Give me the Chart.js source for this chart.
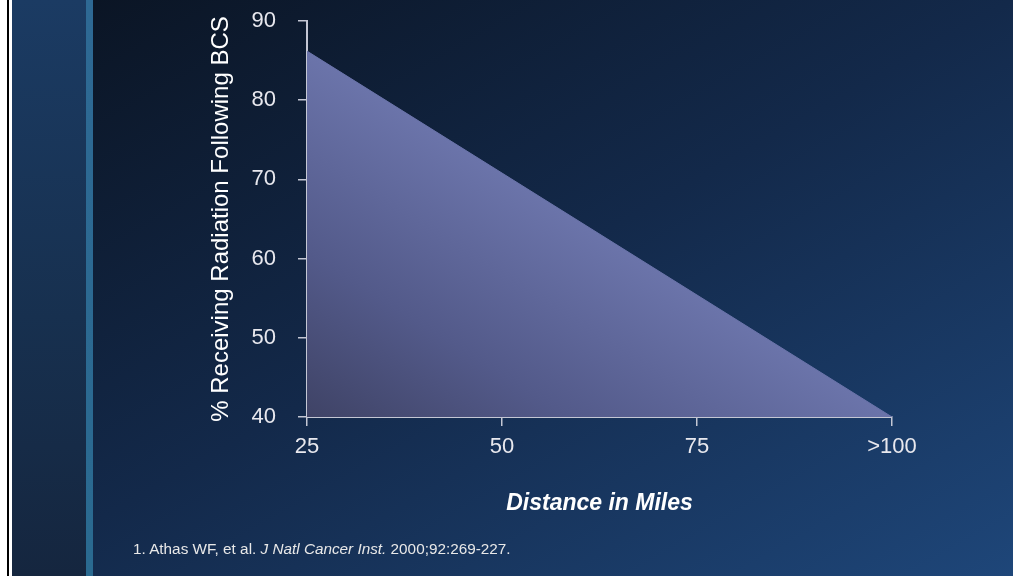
<!DOCTYPE html>
<html>
<head>
<meta charset="utf-8">
<script src="https://cdn.jsdelivr.net/npm/chart.js@4/dist/chart.umd.min.js"></script>
<style>
  html, body { margin: 0; padding: 0; }
  body { width: 1013px; height: 576px; position: relative; overflow: hidden;
         background: linear-gradient(to bottom right, #0a1321 0%, #13294a 50%, #1e4679 100%); }
  #edgeW1 { position: absolute; left: 0; top: 0; width: 7px; height: 576px; background: #ffffff; }
  #edgeB { position: absolute; left: 7px; top: 0; width: 2px; height: 576px; background: #000000; }
  #edgeW2 { position: absolute; left: 9px; top: 0; width: 3px; height: 576px; background: #ffffff; }
  #band { position: absolute; left: 12px; top: 0; width: 74px; height: 576px;
          background: linear-gradient(to bottom, #1b3b63 0%, #17304f 55%, #15263f 100%); }
  #stripe { position: absolute; left: 86px; top: 0; width: 7px; height: 576px;
            background: linear-gradient(to bottom, #2e6994, #2a6a90); }
  #c { position: absolute; left: 0; top: 0; }
  #note { position: absolute; left: 133px; top: 540px; color: #e8e8e8;
          font-family: 'Liberation Sans Narrow', 'Liberation Sans', Arial, sans-serif; font-size: 15.3px; white-space: nowrap; }
  #note i { font-style: italic; }
</style>
</head>
<body>
<div id="edgeW1"></div><div id="edgeB"></div><div id="edgeW2"></div>
<div id="band"></div><div id="stripe"></div>
<canvas id="c" width="1013" height="576"></canvas>
<div id="note">1. Athas WF, et al. <i>J Natl Cancer Inst.</i> 2000;92:269-227.</div>
<script>
const categories = ['25', '50', '75', '>100'];
const radiationPct = [86.2, 70.8, 55.4, 40];
const yTicks = [40, 50, 60, 70, 80, 90];
const yTitle = '% Receiving Radiation Following BCS';
const xTitle = 'Distance in Miles';

const axisColor = '#c4c7d4';
const tickFont = { family: "'Liberation Sans Narrow', 'Liberation Sans', Arial, sans-serif", size: 22 };

function fillGradient(ctx) {
  const chart = ctx.chart;
  const area = chart.chartArea;
  if (!area) return '#5a6194';
  const xs = chart.scales.x, ys = chart.scales.y;
  const ax = xs.getPixelForValue(0), ay = ys.getPixelForValue(radiationPct[0]);
  const bx = xs.getPixelForValue(categories.length - 1), by = ys.getPixelForValue(radiationPct[radiationPct.length - 1]);
  const cx = ax, cy = by;
  const vx = bx - ax, vy = by - ay;
  const t = ((cx - ax) * vx + (cy - ay) * vy) / (vx * vx + vy * vy);
  const fx = ax + t * vx, fy = ay + t * vy;
  const g = chart.ctx.createLinearGradient(cx, cy, fx, fy);
  g.addColorStop(0, '#3f4366');
  g.addColorStop(0.45, '#535a8a');
  g.addColorStop(1, '#6b74aa');
  return g;
}

new Chart(document.getElementById('c'), {
  type: 'line',
  data: {
    labels: categories,
    datasets: [{
      data: radiationPct,
      fill: 'start',
      backgroundColor: fillGradient,
      borderColor: '#6b74aa',
      borderWidth: 1,
      pointRadius: 0,
      tension: 0
    }]
  },
  options: {
    responsive: false,
    animation: false,
    devicePixelRatio: 1,
    layout: { padding: { left: 207, right: 121, top: 21, bottom: 0 } },
    plugins: { legend: { display: false }, tooltip: { enabled: false } },
    scales: {
      x: {
        type: 'category',
        offset: false,
        grid: { drawOnChartArea: false, drawTicks: true, tickLength: 9, color: axisColor, lineWidth: 1.5 },
        border: { display: true, color: axisColor, width: 2 },
        ticks: { color: '#e8e8ee', font: tickFont, padding: 8, maxRotation: 0 },
        title: { display: true, text: xTitle, color: '#ffffff', padding: { top: 0, bottom: 59 },
                 font: { family: "'Liberation Sans', Arial, sans-serif", size: 23, weight: 'bold', style: 'italic' } },
        afterFit: (s) => { s.height = 159; }
      },
      y: {
        min: 40, max: 90,
        afterBuildTicks: (s) => { s.ticks = yTicks.map(v => ({ value: v })); },
        grid: { drawOnChartArea: false, drawTicks: true, tickLength: 9, color: axisColor, lineWidth: 1.5 },
        border: { display: true, color: axisColor, width: 2 },
        ticks: { color: '#e8e8ee', font: tickFont, padding: 22 },
        title: { display: true, text: yTitle, color: '#ffffff', padding: { top: 0, bottom: 0 },
                 font: { family: "'Liberation Sans', Arial, sans-serif", size: 24 } },
        afterFit: (s) => { s.width = 100; s.paddingTop = 10; s.paddingBottom = 10; }
      }
    }
  }
});
</script>
</body>
</html>
